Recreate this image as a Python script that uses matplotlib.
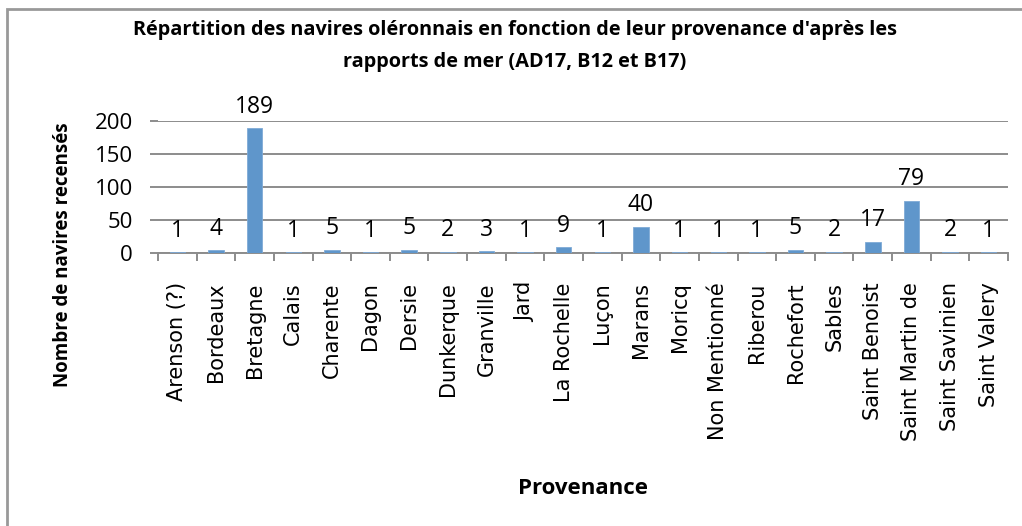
import matplotlib
matplotlib.use("Agg")
import matplotlib.pyplot as plt
from matplotlib.patches import Rectangle

categories = ["Arenson (?)", "Bordeaux", "Bretagne", "Calais", "Charente", "Dagon",
              "Dersie", "Dunkerque", "Granville", "Jard", "La Rochelle", "Luçon",
              "Marans", "Moricq", "Non Mentionné", "Riberou", "Rochefort", "Sables",
              "Saint Benoist", "Saint Martin de", "Saint Savinien", "Saint Valery"]
values = [1, 4, 189, 1, 5, 1, 5, 2, 3, 1, 9, 1, 40, 1, 1, 1, 5, 2, 17, 79, 2, 1]
yticks = [0, 50, 100, 150, 200]

title_line1 = "Répartition des navires oléronnais en fonction de leur provenance d'après les"
title_line2 = "rapports de mer (AD17, B12 et B17)"
ylabel = "Nombre de navires recensés"
xlabel = "Provenance"

W, H = 1022, 526
fig = plt.figure(figsize=(W / 100, H / 100), dpi=100)
fig.patch.set_facecolor("white")

grid_c = "#8C8C8C"
bar_c = "#5F96CB"
HFONT = "Open Sans"

ax = fig.add_axes([158 / W, 1 - 253 / H, 850 / W, (253 - 120.7) / H])
x = list(range(len(categories)))
ax.bar(x, values, width=0.4, color=bar_c, edgecolor="#7FAAD6", linewidth=0.6, zorder=3)
ax.set_xlim(-0.5, len(categories) - 0.5)
ax.set_ylim(0, 200)
ax.set_yticks(yticks)
ax.set_yticklabels([str(t) for t in yticks], fontsize=16, family=HFONT)
ax.yaxis.grid(True, color=grid_c, linewidth=1.4, zorder=0)
ax.set_axisbelow(True)
for s in ["top", "right", "left"]:
    ax.spines[s].set_visible(False)
ax.spines["bottom"].set_color(grid_c)
ax.spines["bottom"].set_linewidth(1.4)
ax.tick_params(axis="y", length=6, width=1.4, color=grid_c, pad=12)

ax.set_xticks(x)
ax.set_xticklabels(categories, rotation=90, fontsize=15, family="DejaVu Sans",
                   va="top", ha="center")
ax.tick_params(axis="x", which="major", length=0, pad=21)
ax.set_xticks([i - 0.5 for i in range(len(categories) + 1)], minor=True)
ax.tick_params(axis="x", which="minor", length=6, width=1.4, color=grid_c)

for xi, v in zip(x, values):
    ax.annotate(str(v), (xi, v), xytext=(0, 11), textcoords="offset points",
                ha="center", va="baseline", fontsize=16.5, family=HFONT)

fig.text(515 / W, 1 - 30 / H, title_line1, ha="center", va="center",
         fontsize=14.3, fontweight="bold", family=HFONT)
fig.text(515 / W, 1 - 62 / H, title_line2, ha="center", va="center",
         fontsize=14.3, fontweight="bold", family=HFONT)
fig.text(63 / W, 1 - 255 / H, ylabel, rotation=90, ha="center", va="center",
         fontsize=13.5, fontweight="bold", family=HFONT)
fig.text(583 / W, 1 - 488 / H, xlabel, ha="center", va="center",
         fontsize=16, fontweight="bold", family=HFONT)

fig.add_artist(Rectangle((7 / W, -0.2), 1.5, 1.2 - 9 / H, transform=fig.transFigure,
                         fill=False, edgecolor="#999999", linewidth=2))

fig.savefig("out.png", dpi=100, facecolor="white")
